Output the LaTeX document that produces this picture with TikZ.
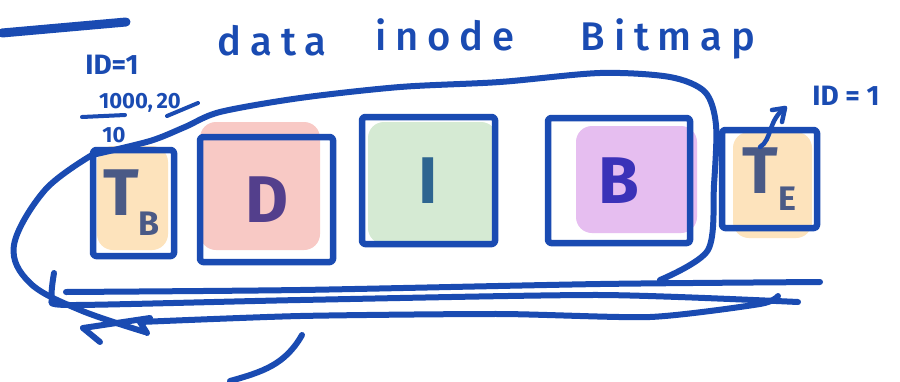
\documentclass[tikz,border=0pt]{standalone}
\usepackage{fontspec}
\setmainfont{Fira Sans}
\newfontfamily\hand[LetterSpace=22]{Fira Sans Medium}
\usetikzlibrary{arrows.meta}
\definecolor{pen}{HTML}{1A4BB2}
\definecolor{orangefill}{HTML}{FDE3BC}
\definecolor{pinkfill}{HTML}{F8C9C5}
\definecolor{greenfill}{HTML}{D5EAD3}
\definecolor{purplefill}{HTML}{E6BEF0}
\definecolor{tdark}{HTML}{4A5A86}
\definecolor{ddark}{HTML}{533F8C}
\definecolor{idark}{HTML}{2E6590}
\definecolor{bdark}{HTML}{3B32B8}
\begin{document}
\begin{tikzpicture}[x=1pt,y=-1pt,line cap=round,line join=round]
\useasboundingbox[fill=white] (0,0) rectangle (900,381);
\tikzset{
  ink/.style={draw=pen,line width=6pt},
  blob/.style={rounded corners=16pt,draw=none},
  boxnode/.style={draw=pen,line width=6.5pt,rounded corners=3pt,inner sep=0pt},
  title/.style={text=pen,font=\hand\fontsize{40}{40}\selectfont,anchor=base},
  note/.style={text=pen,font=\fontsize{28}{28}\selectfont\bfseries,anchor=base},
  small/.style={text=pen,font=\fontsize{22}{22}\selectfont\bfseries,anchor=base},
  letter/.style={font=\fontsize{66}{66}\selectfont\bfseries}
}
% top-left stroke
\draw[pen,line width=9pt] (2,33) -- (126,22);
% titles
\node[title] (data) at (272,55) {data};
\node[title] (inode) at (445,50) {inode};
\node[title] (bitmap) at (668,50) {Bitmap};
% notes
\node[note] (id1) at (112,74) {ID=1};
\node[small] (nums) at (140,108) {1000,\,20};
\draw[pen,line width=4pt] (82,117) -- (125,115);
\draw[pen,line width=4pt] (167,116) -- (198,103);
\node[small] (ten) at (114,142) {10};
\node[note] (id2) at (846,105) {ID = 1};
% colour blobs
\fill[orangefill,blob] (97,146) rectangle (168,250);
\fill[pinkfill,blob] (200,122) rectangle (320,250);
\fill[greenfill,blob] (368,122) rectangle (497,244);
\fill[purplefill,blob] (576,126) rectangle (697,233);
\fill[orangefill,blob] (733,132) rectangle (812,238);
% boxes
\node[boxnode,minimum width=81pt,minimum height=106pt] (tb) at (133.5,203) {};
\node[boxnode,minimum width=133pt,minimum height=125pt] (d) at (266.5,199.5) {};
\node[boxnode,minimum width=133pt,minimum height=127pt] (i) at (428.5,180.5) {};
\node[boxnode,minimum width=142pt,minimum height=125pt] (b) at (619,180.5) {};
\node[boxnode,minimum width=95pt,minimum height=98pt] (te) at (769.5,179) {};
% letters
\node[letter,text=tdark] at ([xshift=-2pt]tb) {T\raisebox{-0.3em}{\fontsize{34}{34}\selectfont B}};
\node[letter,text=ddark] at (d) {D};
\node[letter,text=idark] at (i) {I};
\node[letter,text=bdark] at (b) {B};
\node[letter,text=tdark] at (te) {T\raisebox{-0.25em}{\fontsize{34}{34}\selectfont E}};
% outer loop
\draw[ink] plot[smooth,tension=0.5] coordinates {(92,155) (150,141) (185,127) (220,112) (300,98) (400,87) (500,82) (600,73) (670,77) (705,92) (716,125) (714,185) (708,250) (660,280)};
\draw[ink] plot[smooth,tension=0.6] coordinates {(92,155) (45,190) (14,245) (30,283) (80,310) (145,332)};
% horizontal strokes
\draw[ink] plot[smooth,tension=0.4] coordinates {(66,292) (300,290) (600,284) (820,282)};
\draw[ink] plot[smooth,tension=0.4] coordinates {(54,273) (52,298) (70,305) (300,300) (600,295) (798,302)};
\draw[ink] plot[smooth,tension=0.4] coordinates {(140,322) (300,316) (500,314) (650,317) (760,304) (778,296)};
\draw[ink] (83,328) -- (100,342);
\draw[ink] (83,328) -- (150,318);
\draw[ink] (140,322) -- (147,333);
% bottom curve
\draw[ink] (302,335) .. controls (285,365) and (262,372) .. (230,381);
% arrow T_E -> ID = 1
\coordinate (arrowtip) at (785,108);
\draw[ink,line width=4.5pt] (760,147) .. controls (772,140) and (768,120) .. (arrowtip);
\draw[ink,line width=4.5pt] (772,110) -- (arrowtip) -- (782,122);
\end{tikzpicture}
\end{document}
